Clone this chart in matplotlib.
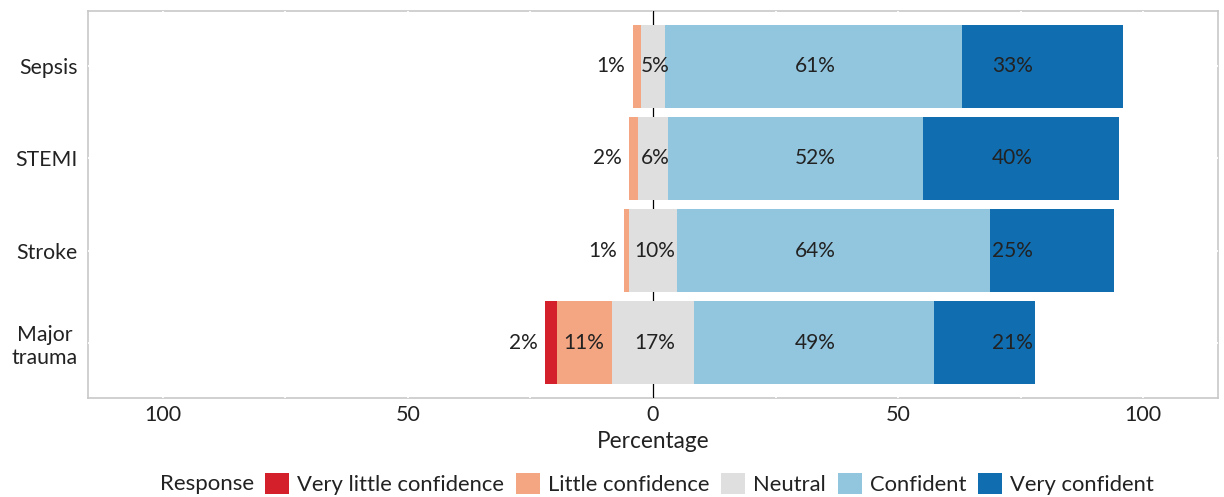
import matplotlib
matplotlib.use("Agg")
import matplotlib.pyplot as plt
from matplotlib.patches import Patch
from matplotlib.ticker import FixedLocator
import numpy as np

plt.rcParams['font.family'] = ['Lato', 'DejaVu Sans']

# ---------------- data ----------------
categories = ["Sepsis", "STEMI", "Stroke", "Major\ntrauma"]
responses = ["Very little confidence", "Little confidence", "Neutral",
             "Confident", "Very confident"]

very_little = [0.0, 0.0, 0.0, 2.4]
little = [1.6, 1.9, 1.0, 11.2]
neutral = [5.1, 6.1, 9.8, 16.9]
confident = [60.5, 52.0, 63.8, 48.8]
very_conf = [32.8, 40.0, 25.4, 20.7]

lab_very_little = ["", "", "", "2%"]
lab_little = ["1%", "2%", "1%", "11%"]
lab_neutral = ["5%", "6%", "10%", "17%"]
lab_confident = ["61%", "52%", "64%", "49%"]
lab_very_conf = ["33%", "40%", "25%", "21%"]

xticks = [-100, -50, 0, 50, 100]
xticklabels = ["100", "50", "0", "50", "100"]

colors = ["#d3202a", "#f4a582", "#dfdfdf", "#92c5de", "#0f6db0"]
text_color = "#222222"

# ---------------- figure ----------------
W, H = 1224, 497
fig = plt.figure(figsize=(W / 100, H / 100), dpi=100)
ax = fig.add_axes([88 / W, 1 - 398 / H, (1218 - 88) / W, (398 - 11) / H])

n = len(categories)
y = np.arange(n)[::-1] + 1.0  # Sepsis at top
bh = 0.9

vl = np.array(very_little)
li = np.array(little)
ne = np.array(neutral)
co = np.array(confident)
vc = np.array(very_conf)

# negative side
ax.barh(y, -ne / 2, left=0, height=bh, color=colors[2], zorder=2)
ax.barh(y, -li, left=-ne / 2, height=bh, color=colors[1], zorder=2)
ax.barh(y, -vl, left=-ne / 2 - li, height=bh, color=colors[0], zorder=2)
# positive side
ax.barh(y, ne / 2, left=0, height=bh, color=colors[2], zorder=2)
ax.barh(y, co, left=ne / 2, height=bh, color=colors[3], zorder=2)
ax.barh(y, vc, left=ne / 2 + co, height=bh, color=colors[4], zorder=2)

# zero line
ax.axvline(0, color="black", lw=0.9, zorder=1)

# ---------------- labels ----------------
fs_lab = 15
NEU_SHIFT = 0.4
OUT_GAP = 1.5
CONF_X = 33.2
VC_X = 73.4
for i in range(n):
    yi = y[i]
    # neutral
    ax.text(NEU_SHIFT, yi, lab_neutral[i], ha="center", va="center",
            fontsize=fs_lab, color=text_color, zorder=3)
    # little
    lc_left = -ne[i] / 2 - li[i]
    if li[i] < 5:
        ax.text(lc_left - OUT_GAP, yi, lab_little[i], ha="right", va="center",
                fontsize=fs_lab, color=text_color, zorder=3)
    else:
        ax.text(-ne[i] / 2 - li[i] / 2, yi, lab_little[i],
                ha="center", va="center", fontsize=fs_lab, color=text_color, zorder=3)
    # very little
    if lab_very_little[i]:
        vl_left = lc_left - vl[i]
        ax.text(vl_left - OUT_GAP, yi, lab_very_little[i], ha="right",
                va="center", fontsize=fs_lab, color=text_color, zorder=3)
    ax.text(CONF_X, yi, lab_confident[i], ha="center", va="center",
            fontsize=fs_lab, color=text_color, zorder=3)
    ax.text(VC_X, yi, lab_very_conf[i], ha="center", va="center",
            fontsize=fs_lab, color=text_color, zorder=3)

# ---------------- axes styling ----------------
ax.set_xlim(-115.3, 115.3)
ax.set_ylim(0.4, n + 0.6)
ax.set_xticks(xticks)
ax.set_xticklabels(xticklabels, fontsize=15.5, color=text_color)
ax.xaxis.set_minor_locator(FixedLocator([-75, -25, 25, 75]))
ax.set_yticks(y)
ax.set_yticklabels(categories, fontsize=15.3, color=text_color,
                   multialignment="center")
ax.tick_params(axis="both", which="both", length=0)
ax.tick_params(axis="y", pad=7.5)
ax.tick_params(axis="x", pad=5)
ax.set_xlabel("Percentage", fontsize=16.3, color=text_color, labelpad=4)

ax.set_axisbelow(True)
ax.grid(True, which="both", color="white", lw=1.3)
for sp in ax.spines.values():
    sp.set_color("#c8c8c8")
    sp.set_linewidth(1.2)
    sp.set_zorder(0.2)

# ---------------- legend ----------------
fig.text(160 / W, 13 / H, "Response", fontsize=16, color=text_color,
         ha="left", va="center")
handles = [Patch(facecolor=c, edgecolor="none") for c in colors]
leg = fig.legend(handles, responses, loc="center left",
                 bbox_to_anchor=(265 / W, 13 / H), ncol=5, frameon=False,
                 fontsize=15.8, handlelength=1.1, handleheight=1.1,
                 handletextpad=0.35, columnspacing=0.55, borderpad=0,
                 borderaxespad=0)
for t in leg.get_texts():
    t.set_color(text_color)

fig.savefig("out.png", dpi=100)
